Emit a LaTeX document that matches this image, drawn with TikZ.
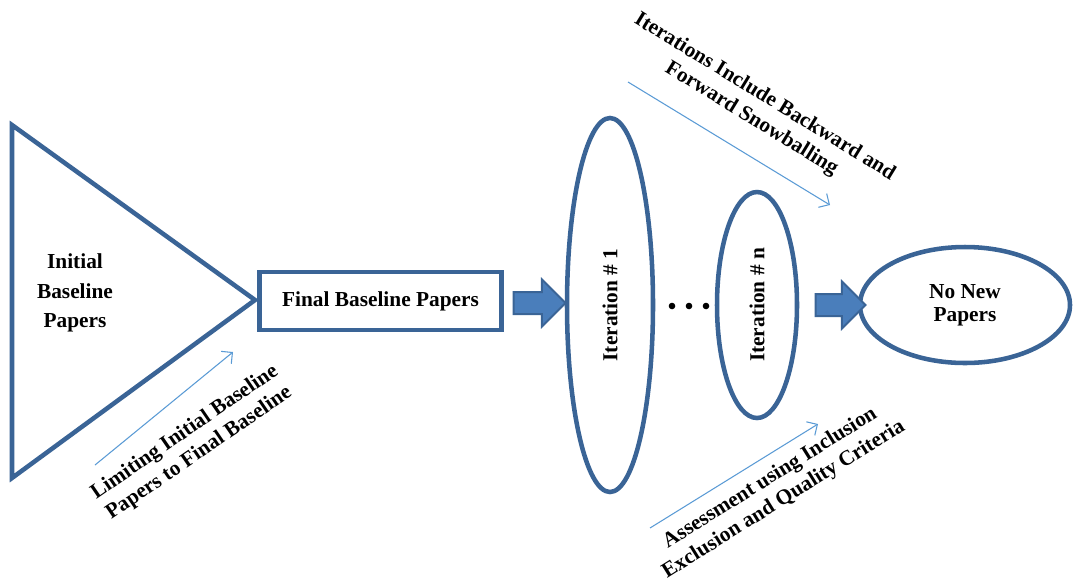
\documentclass[tikz,border=0pt]{standalone}
\usepackage{fontspec}
\setmainfont{Liberation Serif}
\usetikzlibrary{shapes.geometric,shapes.arrows,arrows.meta}
\definecolor{outline}{HTML}{3A6496}
\definecolor{arrowfill}{HTML}{4A7EBB}
\definecolor{thinblue}{HTML}{5B9BD5}
\tikzset{
  shapeline/.style={draw=outline, line width=3.4pt},
  labeltext/.style={font=\bfseries\fontsize{16}{17.5}\selectfont, align=center},
  sidetext/.style={font=\bfseries\fontsize{16}{19}\selectfont, align=center},
  iterellipse/.style={shapeline, ellipse, inner sep=0pt},
  blockarrow/.style={single arrow, draw=outline, fill=arrowfill, line width=1.5pt,
    minimum width=33.75pt, inner xsep=0pt, inner ysep=7.5pt,
    single arrow head extend=9.4pt, single arrow head indent=0pt},
  thinarrow/.style={draw=thinblue, line width=0.8pt, -{Straight Barb[length=6pt,width=12pt]}},
}
\begin{document}
\begin{tikzpicture}[x=0.75pt, y=-0.75pt]
\useasboundingbox (0,0) rectangle (1073,587);

% starting set of papers
\draw[shapeline, line join=miter] (12,125) -- (255,300) -- (12,478) -- cycle;
\node[font=\bfseries\fontsize{16}{22}\selectfont, align=center] (initial) at (75,293) {Initial\\Baseline\\Papers};

% final baseline box
\node[shapeline, labeltext, minimum width=181.5pt, minimum height=43.5pt, inner sep=0pt]
  (final) at (380.5,301) {Final Baseline Papers};

% snowballing iterations
\node[iterellipse, minimum width=64.5pt, minimum height=280.5pt] (it1) at (610,305) {};
\node[labeltext, rotate=90] at (it1.center) {Iteration \# 1};
\node[iterellipse, minimum width=60pt, minimum height=169.5pt] (itn) at (757,305) {};
\node[labeltext, rotate=90] at (itn.center) {Iteration \# n};
\foreach \x in {672,689,706} \fill (\x,306) circle (3.3);

% stopping condition
\node[iterellipse, labeltext, minimum width=157.5pt, minimum height=87pt] (none) at (965,305) {No New\\Papers};

% block arrows
\node[blockarrow, minimum height=39pt] (ba1) at (534,303) {};
\node[blockarrow, minimum height=37.5pt] (ba2) at (835,305) {};

% annotation arrows
\coordinate (s1) at (628,82);  \coordinate (e1) at (830,205);
\coordinate (s2) at (95,465);  \coordinate (e2) at (233,352);
\coordinate (s3) at (650,528); \coordinate (e3) at (818,424);
\draw[thinarrow] (s1) -- (e1);
\draw[thinarrow] (s2) -- (e2);
\draw[thinarrow] (s3) -- (e3);

\node[sidetext, rotate=-31.5] (lab1) at (758,108) {Iterations Include Backward and\\Forward Snowballing};
\node[sidetext, rotate=34.5] (lab2) at (192,443) {Limiting Initial Baseline\\Papers to Final Baseline};
\node[sidetext, rotate=32] (lab3) at (777,489) {Assessment using Inclusion\\Exclusion and Quality Criteria};
\end{tikzpicture}
\end{document}
